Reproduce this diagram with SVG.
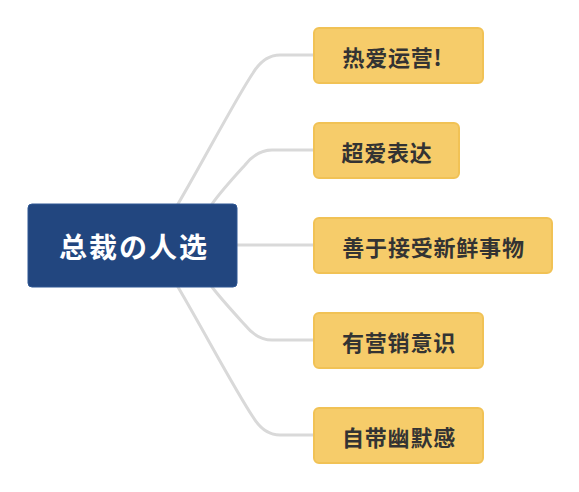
<svg xmlns="http://www.w3.org/2000/svg" width="579" height="492" viewBox="0 0 579 492">
<style>
.conn{fill:none;stroke:#D9D9D9;stroke-width:3;stroke-linecap:round}
.child rect{fill:#F6CC6A;stroke:#F1C255;stroke-width:2}
.child text{font-family:"Noto Sans CJK SC","Noto Sans",sans-serif;font-size:22px;font-weight:bold;fill:#333333;text-anchor:middle;dominant-baseline:central;letter-spacing:0.8px}
.root rect{fill:#22467F;stroke:#2E5794;stroke-width:1}
.root text{font-family:"Noto Sans CJK SC","Noto Sans CJK JP",sans-serif;font-size:28px;font-weight:bold;fill:#FFFFFF;text-anchor:middle;dominant-baseline:central;letter-spacing:2px}
</style>
<rect width="579" height="492" fill="#FFFFFF"/>
<g id="connectors">
<path class="conn" d="M178,204 C205,158 235,100 253,73 Q264,55 280,55 L314,55"/>
<path class="conn" d="M212,204 C222,190 235,176 245,165 Q257,150 272,150 L314,150"/>
<path class="conn" d="M237,245 L314,245"/>
<path class="conn" d="M212,287 C222,300 235,314 245,325 Q257,340 272,340 L314,340"/>
<path class="conn" d="M178,287 C205,333 235,390 253,417 Q264,435 280,435 L314,435"/>
</g>
<g id="root" class="root">
<rect x="28" y="204" width="209" height="83" rx="4"/>
<text x="134" y="246">总裁の人选</text>
</g>
<g id="n1" class="child">
<rect x="314" y="28" width="169" height="55" rx="5"/>
<text x="392.5" y="56">热爱运营!</text>
</g>
<g id="n2" class="child">
<rect x="314" y="123" width="145" height="55" rx="5"/>
<text x="387" y="151">超爱表达</text>
</g>
<g id="n3" class="child">
<rect x="314" y="218" width="238" height="55" rx="5"/>
<text x="433.5" y="246">善于接受新鲜事物</text>
</g>
<g id="n4" class="child">
<rect x="314" y="313" width="169" height="55" rx="5"/>
<text x="399" y="341">有营销意识</text>
</g>
<g id="n5" class="child">
<rect x="314" y="408" width="169" height="55" rx="5"/>
<text x="399" y="436">自带幽默感</text>
</g>
</svg>
